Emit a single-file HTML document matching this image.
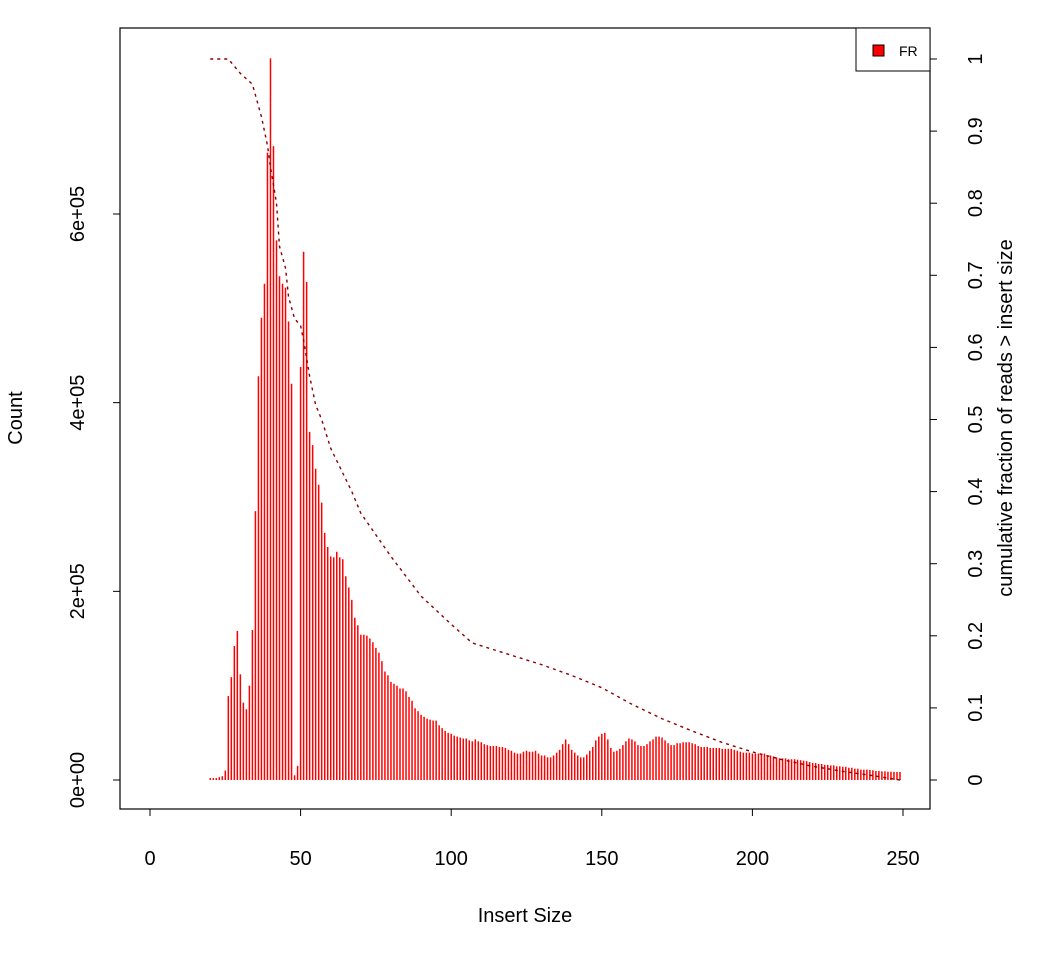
<!DOCTYPE html>
<html><head><meta charset="utf-8"><style>
body{margin:0;background:#fff;}
svg text{font-family:"Liberation Sans",Arial,sans-serif;fill:#000;}
</style></head><body>
<svg id="chart" width="1050" height="960" xmlns="http://www.w3.org/2000/svg">
<rect x="120" y="28" width="810" height="781" fill="none" stroke="#000" stroke-width="1.2"/>
<g id="bars"></g>
<path id="cum" fill="none" stroke="#8b0000" stroke-width="1.4" stroke-dasharray="3,4"/>
<g id="axes"></g>
<text x="525" y="922" font-size="20" text-anchor="middle">Insert Size</text>
<text transform="translate(22,418) rotate(-90)" font-size="20" text-anchor="middle">Count</text>
<text transform="translate(1012,418) rotate(-90)" font-size="20" text-anchor="middle">cumulative fraction of reads &gt; insert size</text>
<g>
<rect x="856" y="28" width="74" height="43" fill="#fff" stroke="#000" stroke-width="1"/>
<rect x="873" y="45" width="11" height="11" fill="#ff0000" stroke="#000" stroke-width="1"/>
<text x="899" y="56" font-size="14">FR</text>
</g>
</svg>
<script>
const sizes = [];
for (let v = 20; v <= 249; v++) sizes.push(v);
const counts = [
2000,2000,2000,3000,4000,10000,89000,109000,142000,158000,
112000,82000,75000,100000,159000,285000,428000,490000,526000,665000,
765000,672000,572000,534000,526000,522000,486000,420000,5000,15000,
438000,560000,528000,369000,355000,330000,313000,294000,262000,247000,
237000,236000,242000,236000,234000,216000,204000,191000,172000,164000,
154000,154000,153000,150000,146000,140000,135000,126000,115000,111000,
104000,102000,100000,97000,97000,94000,88000,84000,76000,73000,
69000,67000,65000,64000,63000,63000,58000,55000,52000,50000,
49000,47000,46000,45000,44000,44000,42000,41000,43000,41000,
40000,38000,37000,36000,36000,36000,35000,35000,34000,32000,
31000,29000,28000,28000,30000,31000,30000,30000,31000,28000,
26000,26000,24000,24000,26000,29000,32000,38000,43000,38000,
32000,29000,26000,24000,24000,27000,31000,35000,42000,46000,
49000,50000,43000,34000,30000,31000,33000,37000,41000,44000,
43000,41000,37000,36000,36000,38000,41000,43000,46000,46000,
45000,42000,39000,37000,37000,39000,39000,40000,40000,40000,
39000,38000,36000,35000,35000,35000,34000,34000,34000,34000,
33000,33000,33000,33000,32000,31000,30000,29000,29000,29000,
28000,28000,28000,28000,28000,26000,26000,25000,24000,23000,
23000,23000,22000,22000,22000,21500,21000,20500,20000,19000,
18000,18000,17000,17000,16000,16000,15500,15500,14500,14500,
14000,14000,13000,13000,12000,12000,11000,11000,11000,10600,
10300,9500,9500,9200,9200,8800,8800,8600,8500,8500];
const cumX = [20,26,28,30,34,35,37,39,40,42,43,45,46,48,50,51,53,55,57,60,67,70,75,80,90,100,107,120,130,140,150,160,170,180,190,200,210,220,230,240,249];
const cumY = [1,1,0.99,0.98,0.965,0.95,0.92,0.88,0.85,0.80,0.74,0.71,0.67,0.64,0.63,0.61,0.56,0.52,0.50,0.46,0.40,0.37,0.34,0.31,0.255,0.216,0.19,0.173,0.16,0.145,0.128,0.105,0.085,0.068,0.052,0.039,0.028,0.019,0.012,0.006,0];
const xTicks = [0,50,100,150,200,250];
const yTicks = [0,200000,400000,600000];
const yTickLabels = ["0e+00","2e+05","4e+05","6e+05"];
const rTicks = [0,0.1,0.2,0.3,0.4,0.5,0.6,0.7,0.8,0.9,1];
const rTickLabels = ["0","0.1","0.2","0.3","0.4","0.5","0.6","0.7","0.8","0.9","1"];

const NS = "http://www.w3.org/2000/svg";
const X = v => 150 + v * (753/250);
const Y = c => 780 - c * (566/600000);
const R = f => 780 - f * 721;

const bars = document.getElementById('bars');
sizes.forEach((s, i) => {
  const l = document.createElementNS(NS, 'line');
  
  
  l.setAttribute('x1', X(s)); l.setAttribute('x2', X(s));
  l.setAttribute('y1', Y(0)); l.setAttribute('y2', Y(counts[i]));
  l.setAttribute('stroke', '#ff0000'); l.setAttribute('stroke-width', '1.5');
  bars.appendChild(l);
});
document.getElementById('cum').setAttribute('d', cumX.map((x, i) => (i ? 'L' : 'M') + X(x) + ',' + R(cumY[i])).join(' '));

const axes = document.getElementById('axes');
function add(tag, attrs, text) {
  const e = document.createElementNS(NS, tag);
  for (const k in attrs) e.setAttribute(k, attrs[k]);
  if (text !== undefined) e.textContent = text;
  axes.appendChild(e);
  return e;
}
add('line', {x1: X(0), x2: X(250), y1: 809, y2: 809, stroke: '#000'});
xTicks.forEach(t => {
  const tk = add('line', {x1: X(t), x2: X(t), y1: 809, y2: 816, stroke: '#000'});
  
  
  const lb = add('text', {x: X(t), y: 865, 'font-size': 20, 'text-anchor': 'middle'}, String(t));
  
  
});
add('line', {x1: 120, x2: 120, y1: Y(0), y2: Y(600000), stroke: '#000'});
yTicks.forEach((t, i) => {
  const tk = add('line', {x1: 113, x2: 120, y1: Y(t), y2: Y(t), stroke: '#000'});
  
  
  const lb = add('text', {transform: 'translate(84,' + Y(t) + ') rotate(-90)', 'font-size': 20, 'text-anchor': 'middle'}, yTickLabels[i]);
  
  
});
add('line', {x1: 930, x2: 930, y1: R(0), y2: R(1), stroke: '#000'});
rTicks.forEach((t, i) => {
  const tk = add('line', {x1: 930, x2: 937, y1: R(t), y2: R(t), stroke: '#000'});
  
  
  const lb = add('text', {transform: 'translate(982,' + R(t) + ') rotate(-90)', 'font-size': 20, 'text-anchor': 'middle'}, rTickLabels[i]);
  
  
});
</script>
</body></html>
